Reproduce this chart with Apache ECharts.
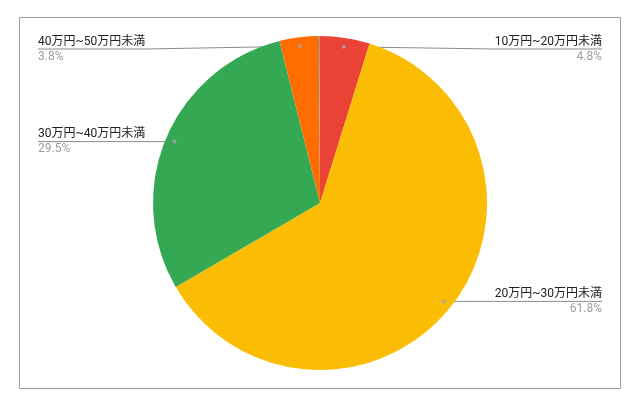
<!DOCTYPE html>
<html>
<head>
<meta charset="utf-8">
<style>
  html, body { margin: 0; padding: 0; background: #fff; }
  #chart { width: 644px; height: 409px; }
</style>
<script src="https://cdn.jsdelivr.net/npm/echarts@6/dist/echarts.min.js"></script>
</head>
<body>
<div id="chart"></div>
<script>
// slices, clockwise from 12 o'clock
const categories = ['10万円~20万円未満', '20万円~30万円未満', '30万円~40万円未満', '40万円~50万円未満', '50万円以上'];
const shares = [4.8, 61.8, 29.5, 3.8, 0.1];
const colors = ['#EA4335', '#FBBC04', '#34A853', '#FF6D01', '#7fa6ab'];
const labelled = [true, true, true, true, false];

const CX = 320, CY = 203, R = 167, DOT_R = 158;
const FONT = 'Roboto, "Noto Sans CJK JP", sans-serif';

const total = shares.reduce((a, b) => a + b, 0);

// mid angle of every labelled slice, for the little leader dots
let acc = 0;
const dots = [];
shares.forEach((v, i) => {
  if (labelled[i]) dots.push([DOT_R, acc + v / 2]);
  acc += v;
});

const chart = echarts.init(document.getElementById('chart'), null, { renderer: 'canvas' });

chart.setOption({
  animation: false,
  graphic: [{
    type: 'rect',
    shape: { x: 19.5, y: 17.5, width: 601, height: 371 },
    style: { fill: 'none', stroke: '#9e9e9e', lineWidth: 1 },
    silent: true
  }],
  polar: { center: [CX, CY], radius: R },
  angleAxis: { type: 'value', min: 0, max: total, startAngle: 90, clockwise: true, show: false },
  radiusAxis: { type: 'value', min: 0, max: R, show: false },
  series: [{
    type: 'pie',
    center: [CX, CY],
    radius: R,
    startAngle: 90,
    clockwise: true,
    avoidLabelOverlap: false,
    emphasis: { disabled: true },
    itemStyle: { borderWidth: 0 },
    label: {
      show: true,
      position: 'outside',
      fontFamily: FONT,
      formatter: (p) => '{n|' + p.name + '}\n{p|' + p.value + '%}',
      rich: {
        n: { fontFamily: FONT, fontSize: 12, color: '#222222', lineHeight: 15 },
        p: { fontFamily: FONT, fontSize: 12, color: '#9e9e9e', lineHeight: 15 }
      }
    },
    labelLine: { show: true, lineStyle: { color: '#8a8a8a', width: 1 } },
    labelLayout: (params) => {
      const pts = params.labelLinePoints;
      if (!pts) return {};
      const k = DOT_R / R;
      const dx = CX + (pts[0][0] - CX) * k;
      const dy = CY + (pts[0][1] - CY) * k;
      const left = dx < CX;
      const lineY = Math.max(dy, 49);
      const w = params.labelRect.width;
      const x = left ? 38 : 602;
      return {
        x: x,
        y: lineY,
        align: left ? 'left' : 'right',
        verticalAlign: 'middle',
        labelLinePoints: [[dx, dy], [left ? x + w : x - w, lineY], [x, lineY]]
      };
    },
    data: categories.map((name, i) => ({
      name: name,
      value: shares[i],
      itemStyle: { color: colors[i] },
      label: { show: labelled[i] },
      labelLine: { show: labelled[i] }
    }))
  }, {
    type: 'scatter',
    coordinateSystem: 'polar',
    symbolSize: 4,
    silent: true,
    z: 5,
    itemStyle: { color: '#a8a8a8' },
    data: dots
  }]
});
</script>
</body>
</html>
